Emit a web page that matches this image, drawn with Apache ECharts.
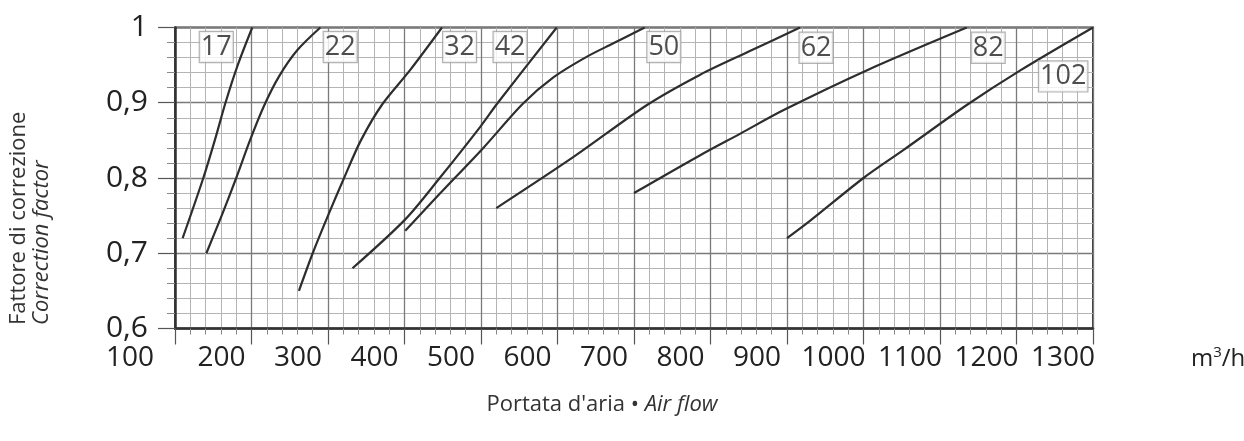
<!DOCTYPE html>
<html>
<head>
<meta charset="utf-8">
<script src="https://cdn.jsdelivr.net/npm/echarts@6/dist/echarts.min.js"></script>
<style>
html,body{margin:0;padding:0;background:#fff;}
#c{width:1244px;height:441px;}
</style>
</head>
<body>
<div id="c"></div>
<script>
// ---- data ----
const xTicks = [100, 1300, 100];          // min, max, step (m3/h)
const yTicks = [0.6, 1.0, 0.1];           // min, max, step
const curveNames = ['17', '22', '32', '42', '50', '62', '82', '102'];
const c17  = [[110,0.72],[137,0.80],[152,0.85],[166,0.90],[182,0.95],[201,1.0]];
const c22  = [[141,0.70],[161,0.75],[180,0.80],[198,0.85],[216,0.895],[236,0.935],[260,0.97],[290,1.0]];
const c32  = [[262,0.65],[280,0.70],[300,0.75],[321,0.80],[343,0.85],[371,0.898],[407,0.943],[449,1.0]];
const c42  = [[332,0.68],[401,0.745],[446,0.80],[499,0.868],[522,0.90],[599,1.0]];
const c50  = [[401,0.73],[446,0.779],[503,0.84],[555,0.899],[595,0.934],[638,0.961],[673,0.979],[714,1.0]];
const c62  = [[520,0.76],[621,0.828],[717,0.897],[786,0.937],[850,0.968],[917,1.0]];
const c82  = [[700,0.78],[786,0.83],[839,0.859],[895,0.89],[1004,0.943],[1135,1.0]];
const c102 = [[900,0.72],[930,0.743],[1000,0.80],[1052,0.837],[1135,0.897],[1205,0.943],[1300,1.0]];
const curves = [c17, c22, c32, c42, c50, c62, c82, c102];
// label anchor positions (data units)
const labelX = [154, 316, 472, 538, 739, 938, 1163, 1261];
const labelY = [0.974, 0.974, 0.974, 0.974, 0.974, 0.973, 0.973, 0.935];

const FONT = "'Open Sans', sans-serif";
const chart = echarts.init(document.getElementById('c'), null, {renderer: 'canvas'});

const series = curves.map((d, i) => ({
  type: 'line', name: curveNames[i], data: d, smooth: 0.3, symbol: 'none',
  lineStyle: {color: '#2e2e2e', width: 2.2}, z: 5, silent: true
}));
series.push({
  type: 'scatter', silent: true, z: 10,
  symbolSize: 1, itemStyle: {color: 'rgba(0,0,0,0)'},
  data: curveNames.map((n, i) => [labelX[i], labelY[i], n]),
  label: {
    show: true, position: 'inside',
    formatter: p => p.value[2],
    fontFamily: FONT, fontSize: 27, color: '#222',
    backgroundColor: '#fff', borderColor: '#a0a0a0', borderWidth: 1.2,
    padding: [1, 1, 0, 1], lineHeight: 29
  }
});

const option = {
  animation: false,
  backgroundColor: '#fff',
  grid: {left: 175, right: 151, top: 27.5, bottom: 112.5, show: true,
         borderColor: '#3a3a3a', borderWidth: 2, backgroundColor: 'transparent'},
  xAxis: {
    type: 'value', min: xTicks[0], max: xTicks[1], interval: xTicks[2],
    axisLine: {show: true, onZero: false, lineStyle: {color: '#333', width: 2.5}},
    axisTick: {show: true, length: 16, lineStyle: {color: '#555', width: 1.2}},
    minorTick: {show: true, splitNumber: 5, length: 6, lineStyle: {color: '#888', width: 1}},
    splitLine: {show: true, lineStyle: {color: '#7a7a7a', width: 1.3}},
    minorSplitLine: {show: true, lineStyle: {color: '#b4b4b4', width: 1}},
    axisLabel: {margin: 16, fontFamily: FONT, fontSize: 28, color: '#222', align: 'center',
      padding: [0, 60, 0, 0],
      formatter: v => (v === xTicks[0] ? '{f|' + v + '}' : String(v)),
      rich: {f: {fontFamily: FONT, fontSize: 28, color: '#222', padding: [0, 30, 0, 0]}}}
  },
  yAxis: {
    type: 'value', min: yTicks[0], max: yTicks[1], interval: yTicks[2],
    axisLine: {show: true, lineStyle: {color: '#333', width: 2.5}},
    axisTick: {show: true, length: 17, lineStyle: {color: '#555', width: 1.2}},
    minorTick: {show: true, splitNumber: 5, length: 8, lineStyle: {color: '#888', width: 1}},
    splitLine: {show: true, lineStyle: {color: '#7a7a7a', width: 1.3}},
    minorSplitLine: {show: true, lineStyle: {color: '#b4b4b4', width: 1}},
    axisLabel: {margin: 27, fontFamily: FONT, fontSize: 30, color: '#222',
      formatter: v => (Math.abs(v - 1) < 1e-9 ? '1' : v.toFixed(1).replace('.', ','))}
  },
  series: series,
  graphic: [
    {type: 'text', x: 19, y: 325, rotation: Math.PI / 2,
     style: {text: 'Fattore di correzione', fontFamily: FONT, fontSize: 22, fill: '#333',
             align: 'left', verticalAlign: 'middle'}},
    {type: 'text', x: 42, y: 325, rotation: Math.PI / 2,
     style: {text: 'Correction factor', fontFamily: FONT, fontSize: 22, fontStyle: 'italic', fill: '#333',
             align: 'left', verticalAlign: 'middle'}},
    {type: 'text', x: 602, y: 405,
     style: {text: "Portata d'aria • {i|Air flow}", fontFamily: FONT, fontSize: 22, fill: '#333',
             align: 'center', verticalAlign: 'middle',
             rich: {i: {fontFamily: FONT, fontSize: 22, fontStyle: 'italic', fill: '#333'}}}},
    {type: 'text', x: 1191, y: 359,
     style: {text: 'm{s|3}/h', fontFamily: FONT, fontSize: 24, fill: '#222',
             align: 'left', verticalAlign: 'middle',
             rich: {s: {fontFamily: FONT, fontSize: 15, fill: '#222', verticalAlign: 'top', padding: [0,0,12,0]}}}}
  ]
};
chart.setOption(option);
</script>
</body>
</html>
